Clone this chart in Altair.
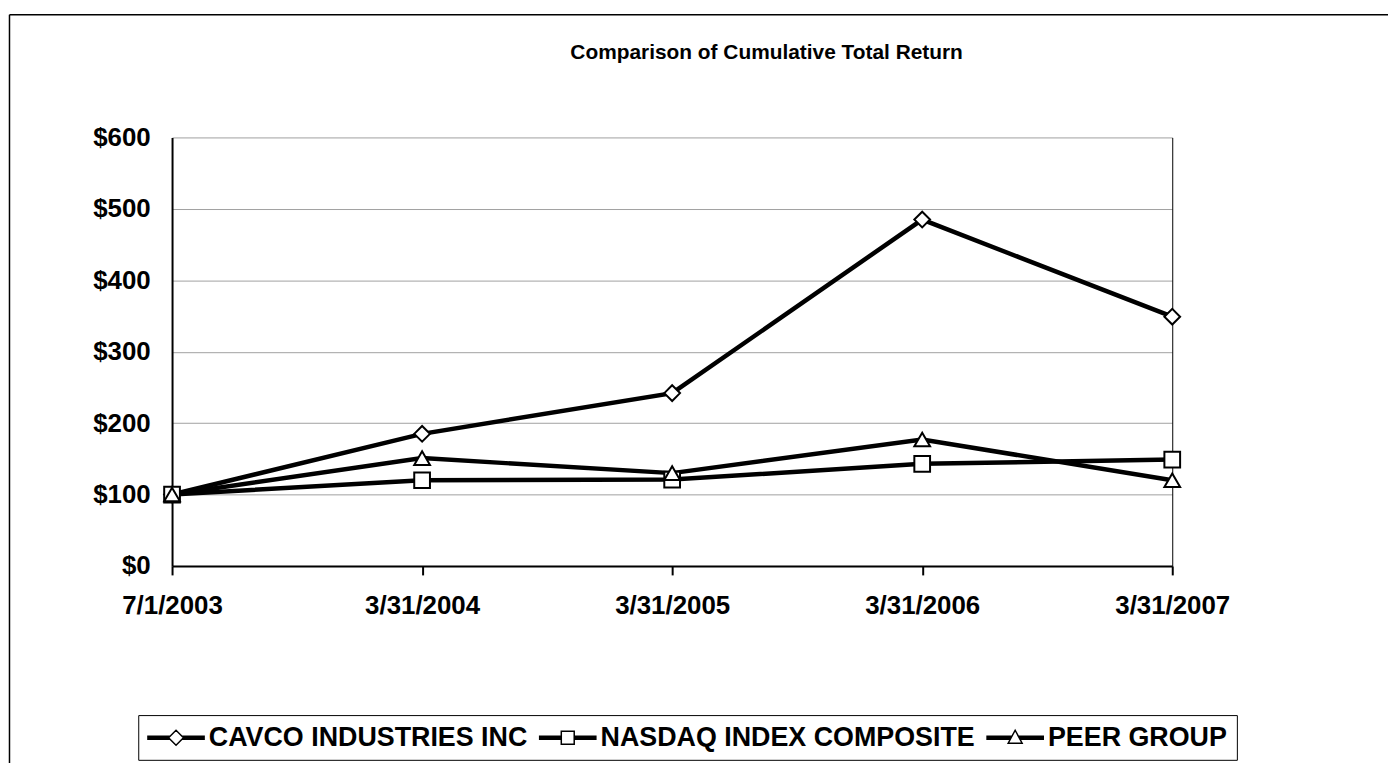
import altair as alt
import pandas as pd

# ---- data ----
dates = ["7/1/2003", "3/31/2004", "3/31/2005", "3/31/2006", "3/31/2007"]
series_names = ["CAVCO INDUSTRIES INC", "NASDAQ INDEX COMPOSITE", "PEER GROUP"]
cavco = [100, 185, 242, 485, 349]
nasdaq = [100, 120, 121, 143, 149]
peer = [100, 151, 130, 177, 120]
y_ticks = [0, 100, 200, 300, 400, 500, 600]
title_text = ["Comparison of Cumulative Total Return"]

rows = []
for s, vals in zip(series_names, [cavco, nasdaq, peer]):
    for i, (d, v) in enumerate(zip(dates, vals)):
        rows.append({"date": d, "series": s, "value": v, "idx": i})
df = pd.DataFrame(rows)

FONT = "Liberation Sans"

# ---- legend glyphs (line + marker) as custom symbol paths ----
# default legend symbol size is 100 -> 5 px per path unit
U = 5.0
CX = 15.5  # shift so the glyph starts at the entry's left edge


def legend_path(kind):
    half = 29.0
    parts = []

    def pt(x, y):
        return f"{(x + CX) / U:.4f},{y / U:.4f}"

    for dy in (-1.5, 0.0, 1.5):
        if kind == "diamond":
            e = 7.5 - abs(dy)
        elif kind == "square":
            e = 6.5
        else:
            e = 7.0 * (dy + 7.5) / 13.0
        parts.append(f"M{pt(-half, dy)}L{pt(-e, dy)}")
        parts.append(f"M{pt(e, dy)}L{pt(half, dy)}")
    if kind == "diamond":
        r = 7.5
        parts.append(f"M{pt(-r, 0)}L{pt(0, -r)}L{pt(r, 0)}L{pt(0, r)}Z")
    elif kind == "square":
        r = 6.5
        parts.append(f"M{pt(-r, -r)}L{pt(r, -r)}L{pt(r, r)}L{pt(-r, r)}Z")
    else:
        parts.append(f"M{pt(0, -7.5)}L{pt(7.0, 5.5)}L{pt(-7.0, 5.5)}Z")
    return "".join(parts)


legend_paths = [legend_path("diamond"), legend_path("square"), legend_path("triangle")]

x_scale = alt.Scale(type="point", padding=0)
y_scale = alt.Scale(domain=[0, 600], nice=False)

x_axis = alt.Axis(
    title=None, labelAngle=0, grid=False, ticks=True, tickSize=9, tickWidth=2,
    tickColor="black", domainColor="black", domainWidth=2,
    labelFont=FONT, labelFontSize=26, labelFontWeight="bold", labelColor="black",
    labelPadding=18, zindex=0,
)
y_axis = alt.Axis(
    title=None, values=y_ticks, labelExpr="'$' + datum.value", ticks=False, tickSize=0,
    domainColor="black", domainWidth=2, grid=True, gridColor="#a0a0a0", gridWidth=1,
    labelFont=FONT, labelFontSize=26, labelFontWeight="bold", labelColor="black",
    labelPadding=22, zindex=0,
)
right_axis = alt.Axis(
    orient="right", title=None, labels=False, ticks=False, grid=False,
    domainColor="black", domainWidth=1, zindex=0,
)

X = alt.X("date:N", sort=dates, scale=x_scale, axis=x_axis)

lines = alt.Chart(df).mark_line(color="black", strokeWidth=4.5).encode(
    x=X,
    y=alt.Y("value:Q", scale=y_scale, axis=y_axis),
    detail="series:N",
    order=alt.Order("idx:Q"),
)

points = alt.Chart(df).mark_point(
    filled=True, fill="white", stroke="black", strokeWidth=2, size=250, opacity=1
).encode(
    x=X,
    y=alt.Y("value:Q", scale=y_scale, axis=None),
    shape=alt.Shape(
        "series:N",
        scale=alt.Scale(domain=series_names, range=["diamond", "square", "triangle-up"]),
        legend=None,
    ),
)

# layer without rows that only carries the legend (line + marker glyphs)
legend_layer = alt.Chart(df).transform_filter("false").mark_point(
    filled=True, fill="white", stroke="black", strokeWidth=2, size=576, opacity=1
).encode(
    x=X,
    y=alt.Y("value:Q", scale=y_scale, axis=right_axis),
    shape=alt.Shape(
        "series:N",
        scale=alt.Scale(domain=series_names, range=legend_paths),
        legend=alt.Legend(
            title=None, orient="none", legendX=-34, legendY=581, direction="horizontal",
            padding=9, strokeColor="black",
            labelFont=FONT, labelFontSize=27, labelFontWeight="bold", labelColor="black",
            labelLimit=1000, labelOffset=35, columnPadding=8,
        ),
    ),
)

frame_df = pd.DataFrame({"k": [0]})
frame_top = alt.Chart(frame_df).mark_rule(color="black", strokeWidth=1.5).encode(
    x=alt.value(-163.5), x2=alt.value(1400), y=alt.value(-123.5)
)
frame_left = alt.Chart(frame_df).mark_rule(color="black", strokeWidth=1.5).encode(
    x=alt.value(-163.5), y=alt.value(-123.5), y2=alt.value(800)
)

title_df = pd.DataFrame({"t": title_text})
title_mark = alt.Chart(title_df).mark_text(
    font=FONT, fontSize=21, fontWeight="bold", color="black", align="center",
    baseline="alphabetic",
).encode(text="t:N", x=alt.value(598), y=alt.value(-79))

chart = (
    alt.layer(lines, legend_layer, points, frame_top, frame_left, title_mark)
    .resolve_scale(shape="independent")
    .resolve_axis(y="independent")
    .properties(
        width=1006,
        height=431,
        padding={"left": 165, "top": 128, "right": 217, "bottom": 196},
        autosize=alt.AutoSizeParams(type="none"),
        background="white",
    )
    .configure_view(stroke=None)
)

chart.save("out.html", embed_options={"renderer": "svg", "actions": False})
